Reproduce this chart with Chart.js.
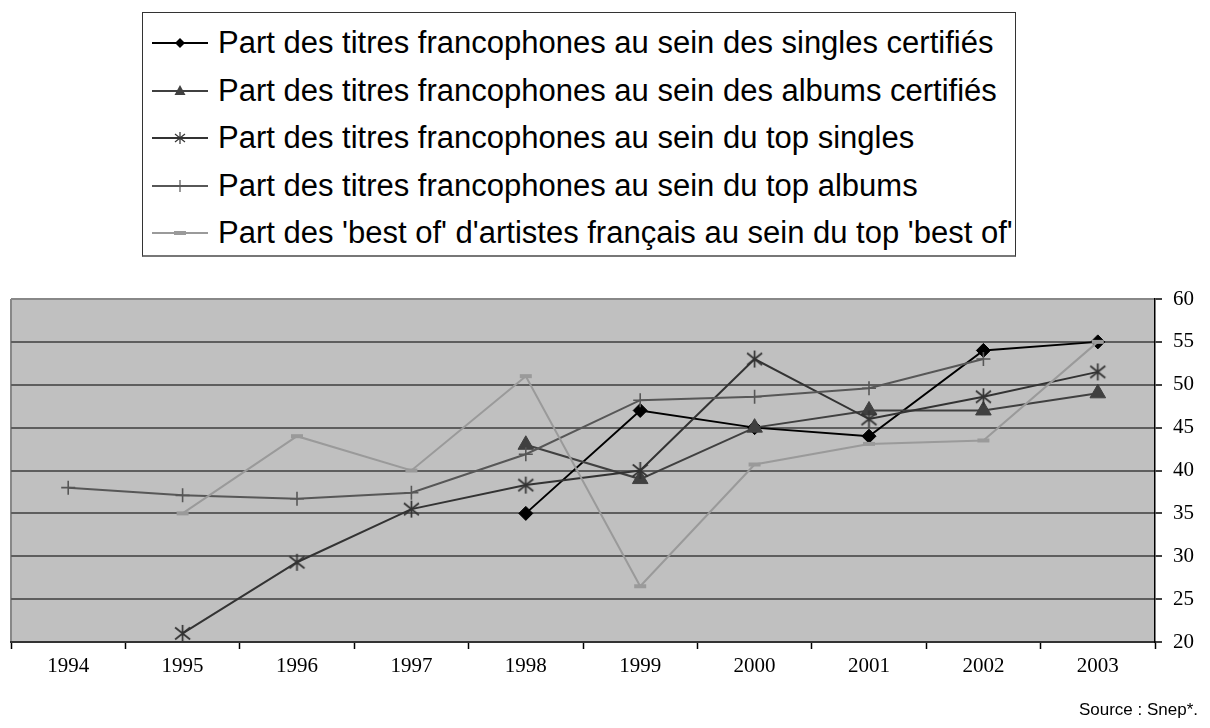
<!DOCTYPE html>
<html lang="fr">
<head>
<meta charset="utf-8">
<title>Part des titres francophones</title>
<script src="https://cdn.jsdelivr.net/npm/chart.js@4.4.1/dist/chart.umd.min.js"></script>
<style>
  html, body { margin: 0; padding: 0; background: #fff; width: 1210px; height: 728px; overflow: hidden; }
  #wrap { position: relative; width: 1210px; height: 728px; }
  #tendances { position: absolute; left: 0; top: 0; }
  #legende {
    position: absolute; left: 142px; top: 12px; width: 874px; height: 245px;
    box-sizing: border-box; border: 1px solid #333; border-bottom: 2px solid #777; background: #fff;
  }
  .ligne {
    position: absolute; left: 9px; height: 30px; display: flex; align-items: center;
    font-family: "Liberation Sans", Arial, sans-serif; font-size: 31px; color: #000; white-space: nowrap;
  }
  .ligne svg { margin-right: 10px; flex: none; }
  #source {
    position: absolute; right: 12px; top: 700px;
    font-family: "Liberation Sans", Arial, sans-serif; font-size: 17px; color: #000;
  }
</style>
</head>
<body>
<div id="wrap">
  <canvas id="tendances" width="1210" height="728"></canvas>
  <div id="legende"></div>
  <div id="source">Source : Snep*.</div>
</div>
<script>
// Années et parts (%) relevées pour chaque série
const annees = ["1994", "1995", "1996", "1997", "1998", "1999", "2000", "2001", "2002", "2003"];
const singlesCertifies = [null, null, null, null, 35, 47, 45, 44, 54, 55];
const albumsCertifies = [null, null, null, null, 43, 39, 45, 47, 47, 49];
const topSingles = [null, 21, 29.3, 35.5, 38.3, 40, 53, 46, 48.6, 51.5];
const topAlbums = [38, 37.1, 36.7, 37.4, 41.9, 48.2, 48.6, 49.6, 53, null];
const bestOf = [null, 35, 44, 40, 51, 26.5, 40.7, 43.1, 43.5, 55];

const libelles = [
    "Part des titres francophones au sein des singles certifiés",
    "Part des titres francophones au sein des albums certifiés",
    "Part des titres francophones au sein du top singles",
    "Part des titres francophones au sein du top albums",
    "Part des 'best of' d'artistes français au sein du top 'best of'",
];

// Astérisque à six branches (pas de style natif équivalent)
function asterisque(couleur) {
    const c = document.createElement("canvas");
    c.width = 19; c.height = 19;
    const g = c.getContext("2d");
    g.strokeStyle = couleur;
    g.lineWidth = 1.7;
    g.beginPath();
    g.moveTo(9.5, 1); g.lineTo(9.5, 18);
    g.moveTo(2, 3.5); g.lineTo(17, 15.5);
    g.moveTo(17, 3.5); g.lineTo(2, 15.5);
    g.stroke();
    return c;
}

const series = [
    { data: singlesCertifies, color: "#000000", style: "rectRot", radius: 7, fill: "#000000", bw: 1 },
    { data: albumsCertifies, color: "#404040", style: "triangle", radius: 9, fill: "#404040", bw: 1 },
    { data: topSingles, color: "#333333", style: asterisque("#333333"), radius: 9, fill: "#333333", bw: 1 },
    { data: topAlbums, color: "#575757", style: "cross", radius: 7, fill: "#575757", bw: 1.6 },
    { data: bestOf, color: "#9a9a9a", style: "line", radius: 6, fill: "#9a9a9a", bw: 4 },
];

// Fond gris de la zone de tracé et bord gauche
const fondZone = {
    id: "fondZone",
    beforeDraw(chart) {
        const { ctx, chartArea: a } = chart;
        ctx.save();
        ctx.fillStyle = "#c0c0c0";
        ctx.fillRect(a.left, a.top, a.right - a.left, a.bottom - a.top);
        ctx.strokeStyle = "#888";
        ctx.lineWidth = 2;
        ctx.beginPath();
        ctx.moveTo(a.left, a.top);
        ctx.lineTo(a.left, a.bottom);
        ctx.stroke();
        ctx.restore();
    },
};

const ctx = document.getElementById("tendances").getContext("2d");

new Chart(ctx, {
    type: "line",
    data: {
        labels: annees,
        datasets: series.map((s, i) => ({
            label: libelles[i],
            data: s.data,
            borderColor: s.color,
            borderWidth: 2,
            pointStyle: s.style,
            pointRadius: s.radius,
            pointBackgroundColor: s.fill,
            pointBorderColor: s.color,
            pointBorderWidth: s.bw,
            tension: 0,
            order: series.length - i,
        })),
    },
    options: {
        responsive: false,
        animation: false,
        layout: { padding: { top: 299, left: 11, right: 0, bottom: 46 } },
        plugins: { legend: { display: false }, tooltip: { enabled: false } },
        scales: {
            x: {
                offset: true,
                grid: { display: true, offset: true, drawOnChartArea: false, drawTicks: true, tickLength: 7, tickColor: "#000", tickWidth: 1.5 },
                border: { display: true, color: "#333", width: 2 },
                ticks: { color: "#000", padding: 5, maxRotation: 0, font: { family: "'Liberation Serif', 'Times New Roman', serif", size: 21 } },
                afterFit(scale) { scale.height = 40; },
            },
            y: {
                position: "right",
                min: 20,
                max: 60,
                ticks: { stepSize: 5, color: "#000", padding: 11, font: { family: "'Liberation Serif', 'Times New Roman', serif", size: 21 } },
                grid: {
                    color: (c) => (c.tick && c.tick.value === 60 ? "#888" : "#5e5e5e"),
                    lineWidth: 2,
                    drawTicks: true,
                    tickLength: 7,
                    tickColor: "#000",
                    tickWidth: 1.5,
                },
                border: { display: true, color: "#000", width: 1.5 },
                afterFit(scale) { scale.width = 55; },
            },
        },
    },
    plugins: [fondZone],
});

// Légende en encadré au-dessus du graphique
function marqueur(s) {
    const cx = 28, cy = 15;
    let m = "";
    if (s.style === "rectRot") {
        m = `<polygon points="${cx - 5},${cy} ${cx},${cy - 5} ${cx + 5},${cy} ${cx},${cy + 5}" fill="${s.fill}"/>`;
    } else if (s.style === "triangle") {
        m = `<polygon points="${cx},${cy - 6} ${cx + 5.5},${cy + 4} ${cx - 5.5},${cy + 4}" fill="${s.fill}"/>`;
    } else if (s.style === "cross") {
        m = `<path d="M${cx} ${cy - 6}V${cy + 6}M${cx - 6} ${cy}H${cx + 6}" stroke="${s.color}" stroke-width="1.2"/>`;
    } else if (s.style === "line") {
        m = `<path d="M${cx - 6} ${cy}H${cx + 6}" stroke="${s.color}" stroke-width="4"/>`;
    } else {
        m = `<path d="M${cx} ${cy - 6}V${cy + 6}M${cx - 5} ${cy - 4}L${cx + 5} ${cy + 4}M${cx + 5} ${cy - 4}L${cx - 5} ${cy + 4}" stroke="${s.color}" stroke-width="1.2"/>`;
    }
    return `<svg width="56" height="30" viewBox="0 0 56 30"><path d="M0 ${cy}H56" stroke="${s.color}" stroke-width="2"/>${m}</svg>`;
}

const legende = document.getElementById("legende");
series.forEach((s, i) => {
    const row = document.createElement("div");
    row.className = "ligne";
    row.style.top = (15 + i * 47.5) + "px";
    row.innerHTML = marqueur(s) + "<span>" + libelles[i] + "</span>";
    legende.appendChild(row);
});
</script>
</body>
</html>
